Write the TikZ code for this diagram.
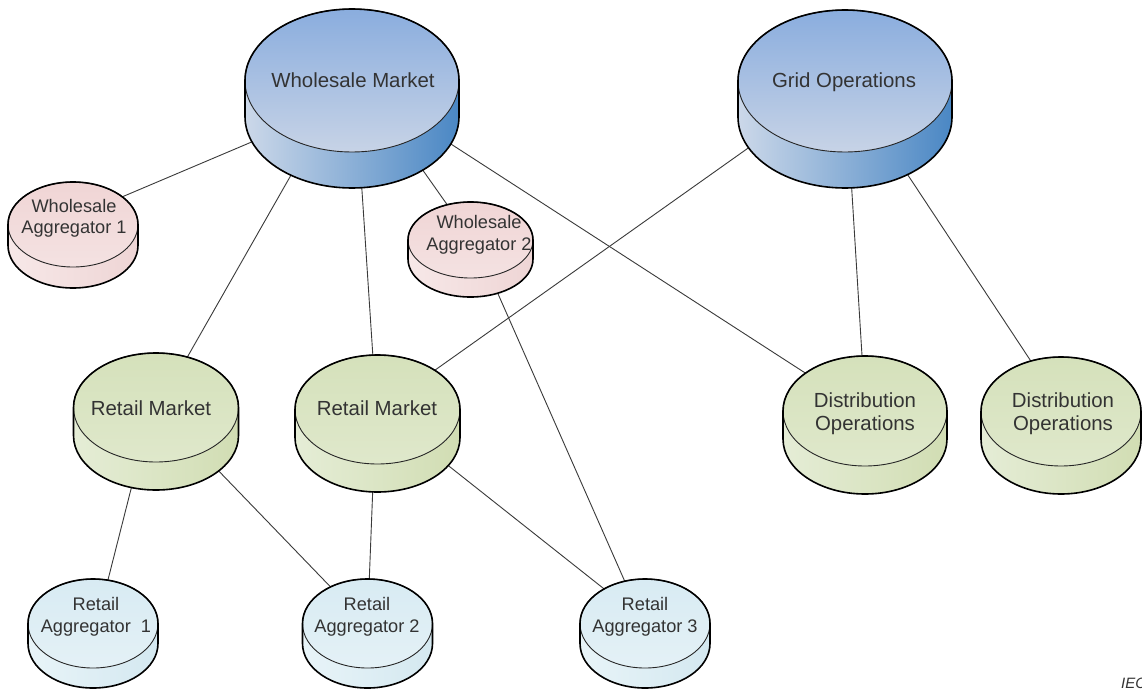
\documentclass[tikz,border=0pt]{standalone}
\usepackage{fontspec}
\setmainfont{Liberation Sans}
\usetikzlibrary{calc,backgrounds}

% colour schemes: lid top/bottom, side left/middle/right
\definecolor{bluetop}{HTML}{8AADDE}
\definecolor{bluebot}{HTML}{C7D3E6}
\definecolor{bluesl}{HTML}{CCD8E9}
\definecolor{bluesm}{HTML}{9DB8DC}
\definecolor{bluesr}{HTML}{4A87C4}
\definecolor{greentop}{HTML}{D5E1BB}
\definecolor{greenbot}{HTML}{DFE8CB}
\definecolor{greensl}{HTML}{E5EDD6}
\definecolor{greensm}{HTML}{DCE6C6}
\definecolor{greensr}{HTML}{D1DDB3}
\definecolor{pinktop}{HTML}{F0D5D5}
\definecolor{pinkbot}{HTML}{F4E2E2}
\definecolor{pinksl}{HTML}{F7E8E8}
\definecolor{pinksm}{HTML}{F3DFDF}
\definecolor{pinksr}{HTML}{EED5D5}
\definecolor{icetop}{HTML}{D8EBF3}
\definecolor{icebot}{HTML}{E4F1F6}
\definecolor{icesl}{HTML}{E8F4F8}
\definecolor{icesm}{HTML}{DFEFF5}
\definecolor{icesr}{HTML}{D4E8F0}
\definecolor{labelgray}{HTML}{333333}
\definecolor{linkgray}{HTML}{3A3A3A}

% \disk{name}{cx}{cy}{rx}{ry}{depth}{scheme}: a flat cylinder seen from above
\newcommand\disk[7]{%
  \coordinate (#1) at (#2,#3);
  \shade[left color=#7sl, middle color=#7sm, right color=#7sr]
    (#2-#4,#3) rectangle (#2+#4,#3+#6);
  \shade[left color=#7sl, middle color=#7sm, right color=#7sr]
    (#2,#3+#6) ellipse[x radius=#4, y radius=#5];
  \shade[top color=#7top, bottom color=#7bot]
    (#2,#3) ellipse[x radius=#4, y radius=#5];
  \draw[rim] (#2,#3) ellipse[x radius=#4, y radius=#5];
  \draw[outline] (#2-#4,#3) -- (#2-#4,#3+#6)
    arc[start angle=180, end angle=0, x radius=#4, y radius=#5]
    -- (#2+#4,#3)
    arc[start angle=0, end angle=-180, x radius=#4, y radius=#5] -- cycle;
}

\begin{document}
\begin{tikzpicture}[x=1pt, y=-1pt,
  rim/.style={draw=black!85, line width=0.9pt},
  outline/.style={draw=black, line width=1.6pt, line join=round},
  link/.style={draw=linkgray, line width=0.9pt},
  biglbl/.style={font=\fontsize{20.4}{23}\selectfont, text=labelgray,
    align=center, inner sep=0pt, anchor=base},
  smalllbl/.style={font=\fontsize{18.2}{21.5}\selectfont, text=labelgray,
    align=center, inner sep=0pt, anchor=base}]
\useasboundingbox (0,0) rectangle (1142,690);

% markets and operators (label positions give the baseline of the last line)
\disk{wm}{352}{80.5}{107}{71.5}{36}{blue}
\node[biglbl] (wm-t) at (353,88) {Wholesale Market};
\disk{go}{845}{81}{107}{71}{36}{blue}
\node[biglbl] (go-t) at (844,88) {Grid Operations};

\disk{wa1}{73}{224.5}{65}{42.5}{21}{pink}
\node[smalllbl] (wa1-t) at (74,233.5) {Wholesale\\Aggregator 1};
\disk{wa2}{470.5}{240}{62.5}{38}{19}{pink}
\node[smalllbl] (wa2-t) at (479,250) {Wholesale\\Aggregator 2};

\disk{rm1}{156}{407.5}{82.5}{54.5}{28}{green}
\node[biglbl] (rm1-t) at (151,415) {Retail Market};
\disk{rm2}{377.5}{409.5}{82.5}{54.5}{28}{green}
\node[biglbl] (rm2-t) at (377,415) {Retail Market};
\disk{do1}{865}{411}{82}{55}{28}{green}
\node[biglbl] (do1-t) at (865,430) {Distribution\\Operations};
\disk{do2}{1061}{411.5}{80}{54.5}{28}{green}
\node[biglbl] (do2-t) at (1063,430) {Distribution\\Operations};

\disk{ra1}{93}{623.5}{65}{44.5}{20}{ice}
\node[smalllbl] (ra1-t) at (96,632) {Retail\\Aggregator\ \ 1};
\disk{ra2}{367.5}{623.5}{65}{44.5}{20}{ice}
\node[smalllbl] (ra2-t) at (367,632) {Retail\\Aggregator 2};
\disk{ra3}{645}{623.5}{65}{44.5}{20}{ice}
\node[smalllbl] (ra3-t) at (645,632) {Retail\\Aggregator 3};

\node[font=\fontsize{15}{17}\selectfont\itshape, text=labelgray, inner sep=0pt,
  anchor=base west] (src) at (1121,688) {IEC};

% connectors run behind the cylinders
\begin{pgfonlayer}{background}
  \fill[white] (0,0) rectangle (1142,690);
  \draw[link] ($(wm)+(-52,41)$) -- ($(wa1)+(17,-14)$);
  \draw[link] ($(wm)+(-47,70)$) -- ($(rm1)+(18,-27)$);
  \draw[link] ($(wm)+(8,80)$) -- ($(rm2)+(-3,-29)$);
  \draw[link] ($(wm)+(64,80)$) -- ($(wa2)+(-9,-15)$);
  \draw[link] ($(wm)+(78,50)$) -- ($(do1)+(-35,-22)$);
  \draw[link] ($(go)+(-70,48)$) -- ($(rm2)+(33,-22)$);
  \draw[link] ($(go)+(5,80)$) -- ($(do1)+(-1.5,-31)$);
  \draw[link] ($(go)+(47,70)$) -- ($(do2)+(-14,-26)$);
  \draw[link] ($(wa2)+(17,30)$) -- ($(ra3)+(-10,-19)$);
  \draw[link] ($(rm1)+(-19,58)$) -- ($(ra1)+(10,-24)$);
  \draw[link] ($(rm1)+(43,43)$) -- ($(ra2)+(-20,-19)$);
  \draw[link] ($(rm2)+(-4,61)$) -- ($(ra2)+(1,-24)$);
  \draw[link] ($(rm2)+(53,42)$) -- ($(ra3)+(-25,-22)$);
\end{pgfonlayer}
\end{tikzpicture}
\end{document}
